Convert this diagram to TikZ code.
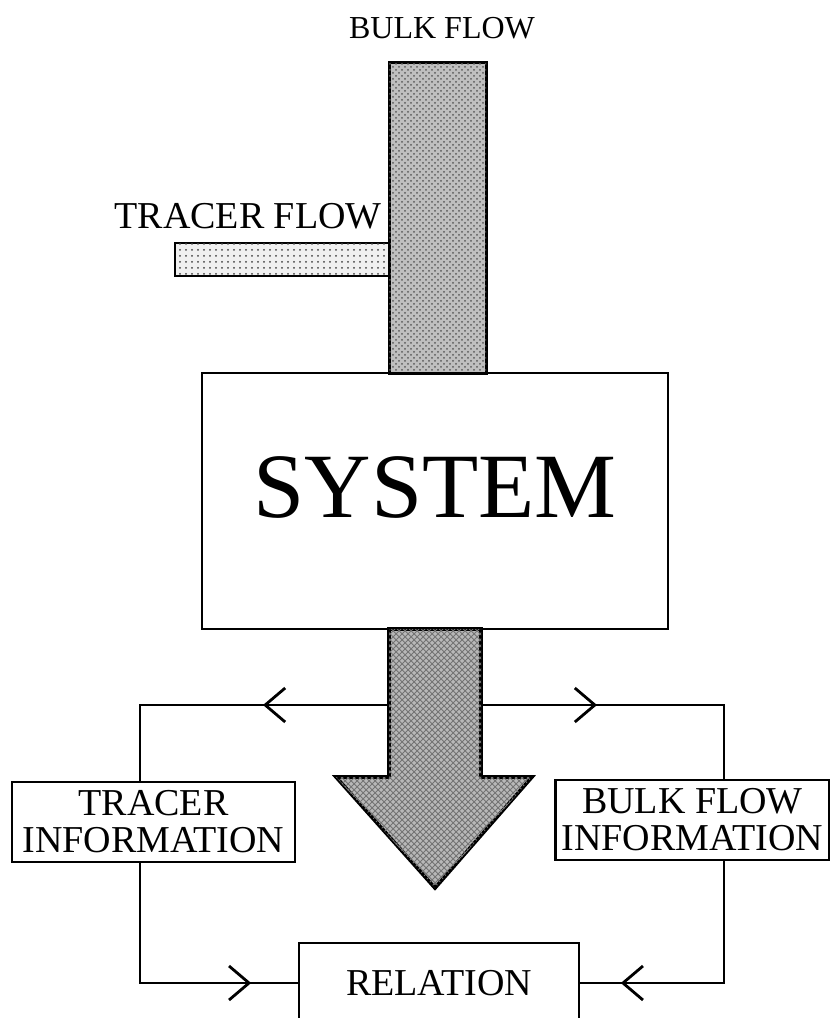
\documentclass[tikz,border=0pt]{standalone}
\usepackage{fontspec}
\setmainfont{Liberation Serif}
\usepackage{tikz}
\usetikzlibrary{positioning,calc,patterns,decorations.markings,arrows.meta}

\tikzset{
  sysbox/.style={draw, line width=1.4pt, inner sep=0pt},
  infobox/.style={draw, line width=1.2pt, inner sep=0pt, align=center,
    minimum height=40pt, font=\fontsize{19}{18.5}\selectfont},
  flowlabel/.style={inner sep=0pt},
  bulkfill/.style={draw, line width=1.5pt, fill=black!25,
    postaction={pattern=crosshatch dots, pattern color=black!65}},
  tracerfill/.style={draw, line width=1.4pt, fill=black!6,
    postaction={pattern=dots, pattern color=black!75}},
  arrowfill/.style={draw, line width=1.8pt, fill=black!28,
    postaction={pattern=crosshatch, pattern color=black!55}},
  link/.style={line width=1.2pt},
  midarrow/.style={postaction={decorate}, decoration={markings,
    mark=at position #1 with {\arrow{Straight Barb[length=10pt,width=17pt,line width=1.4pt]}}}},
}

\begin{document}
\begin{tikzpicture}[x=0.5pt,y=-0.5pt]
  \useasboundingbox (0,0) rectangle (830,1018);

  % Flows into the system
  \draw[bulkfill] (389,62) rectangle (486,373);
  \draw[tracerfill] (175,243) rectangle (389,276);
  \node[flowlabel, font=\fontsize{16}{16}\selectfont] (bulklab) at (442,28) {BULK FLOW};
  \node[flowlabel, font=\fontsize{19}{19}\selectfont] (tracerlab) at (248,216) {TRACER FLOW};

  % System
  \node[sysbox, minimum width=233pt, minimum height=128pt, text depth=14pt,
    font=\fontsize{46}{46}\selectfont] (sys) at (435,501) {SYSTEM};

  % Outflow
  \draw[arrowfill] (389,629) -- (389,777) -- (336,777) -- (435,888)
    -- (532,777) -- (481,777) -- (481,629) -- cycle;
  \coordinate (outL) at (389,705);
  \coordinate (outR) at (481,705);

  % Information and relation
  \node[infobox, minimum width=141.5pt] (tinfo) at (153.5,822) {TRACER\\INFORMATION};
  \node[infobox, minimum width=137pt] (binfo) at (692.5,820) {BULK FLOW\\INFORMATION};
  \node[infobox, minimum width=140pt] (rel) at (439,983) {RELATION};

  \coordinate (jl) at (140,705);
  \coordinate (jr) at (724,705);
  \draw[link, midarrow=63pt] (outL) -- (jl) -- (jl |- tinfo.north);
  \draw[link, midarrow=58pt] (outR) -- (jr) -- (jr |- binfo.north);
  \draw[link, midarrow=115.5pt] (jl |- tinfo.south) -- (jl |- rel.west) -- (rel.west);
  \draw[link, midarrow=112.5pt] (jr |- binfo.south) -- (jr |- rel.east) -- (rel.east);
\end{tikzpicture}
\end{document}
